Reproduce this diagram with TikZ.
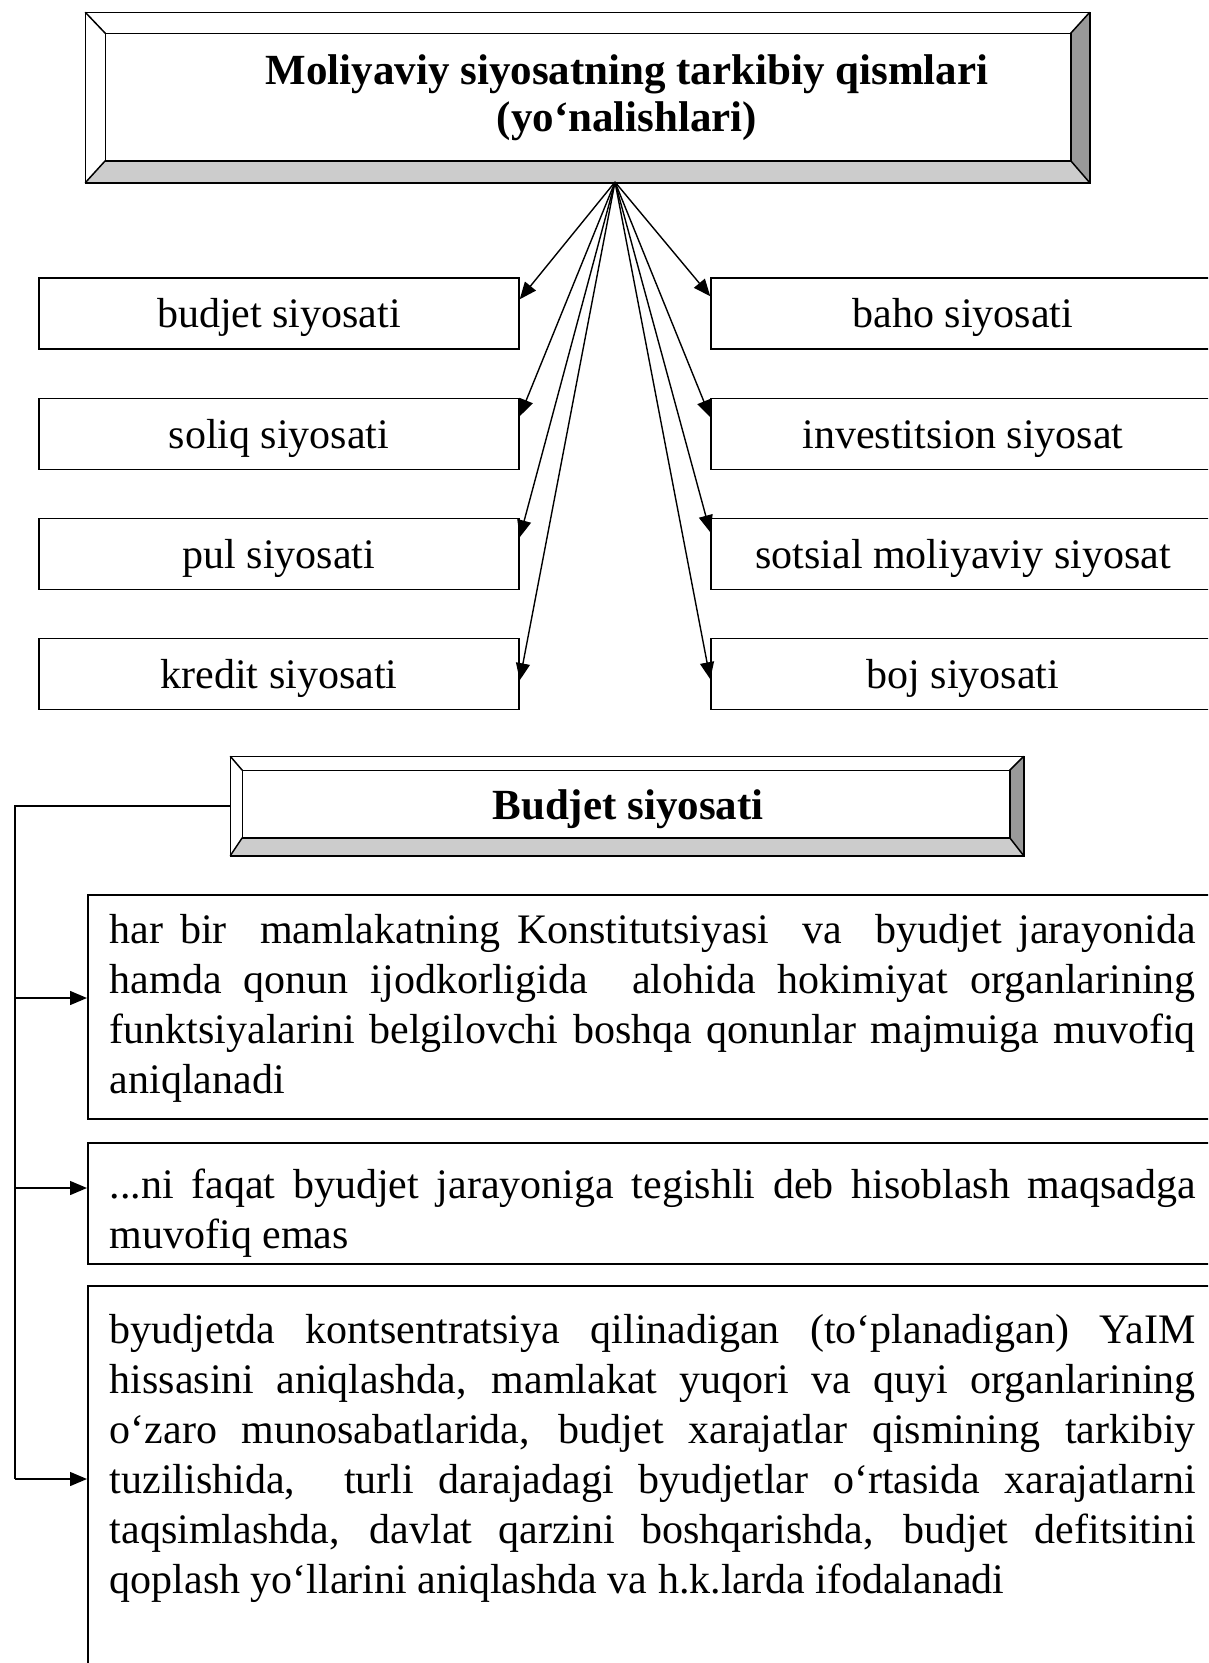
\documentclass[tikz,border=0pt]{standalone}
\usepackage{fontspec}
\setmainfont{Liberation Serif}
\usetikzlibrary{arrows.meta}
\setlength{\parindent}{0pt}
\definecolor{bevlight}{HTML}{CCCCCC}
\definecolor{bevdark}{HTML}{999999}
\newcommand{\JL}[1]{{\spaceskip=0pt\xspaceskip=0pt\makebox[1086pt][s]{#1}}}
\newcommand{\NS}{\spaceskip=0pt\xspaceskip=0pt\relax}
\newcommand{\bevelpaint}[2]{%
  \fill[bevlight] (#1.south west) -- (#1.south east) -- (#2.south east) -- (#2.south west) -- cycle;
  \fill[bevdark] (#1.south east) -- (#1.north east) -- (#2.north east) -- (#2.south east) -- cycle;
  \draw (#1.south west) rectangle (#1.north east);
  \draw (#2.south west) rectangle (#2.north east);
  \draw (#1.north west) -- (#2.north west) (#1.north east) -- (#2.north east)
        (#1.south west) -- (#2.south west) (#1.south east) -- (#2.south east);
}
\tikzset{
  shell/.style={rectangle, inner sep=0pt},
  sbox/.style={draw, rectangle, inner sep=0pt, minimum height=71pt, text height=28pt, text depth=0pt,
    font=\fontsize{42}{48}\selectfont},
  arr/.style={-{Triangle[length=17pt,width=14pt]}, line width=1.4pt},
  tbox/.style={draw, rectangle, inner sep=0pt, anchor=north west, minimum width=1131pt},
  body/.style={anchor=north west, inner sep=0pt, align=left, text width=1086pt,
    font=\fontsize{42}{50}\selectfont},
  head/.style={inner sep=0pt, font=\bfseries\fontsize{43}{47}\selectfont}
}
\begin{document}
\begin{tikzpicture}[x=1pt,y=-1pt,line width=1.5pt]
\useasboundingbox (0,0) rectangle (1208,1663);
\clip (0,0) rectangle (1208,1663);

% title bevel box
\path node[shell, minimum width=1003pt, minimum height=169pt] (titleO) at (587.5,97.5) {}
      node[shell, minimum width=964pt, minimum height=126pt] (titleI) at (588,97) {};
\bevelpaint{titleO}{titleI}
\node[head, anchor=north, align=center] (titletext) at (627,54)
  {\NS Moliyaviy siyosatning tarkibiy qismlari\\(yo‘nalishlari)};
\coordinate (src) at (615,182);

% left boxes
\node[sbox, minimum width=480pt] (b1) at (279,313.5) {budjet siyosati};
\node[sbox, minimum width=480pt] (b2) at (279,434) {soliq siyosati};
\node[sbox, minimum width=480pt] (b3) at (279,554) {pul siyosati};
\node[sbox, minimum width=480pt] (b4) at (279,674) {kredit siyosati};
% right boxes
\node[sbox, minimum width=504pt] (r1) at (963,313.5) {baho siyosati};
\node[sbox, minimum width=504pt] (r2) at (963,434) {investitsion siyosat};
\node[sbox, minimum width=504pt] (r3) at (963,554) {sotsial moliyaviy siyosat};
\node[sbox, minimum width=504pt] (r4) at (963,674) {boj siyosati};

\draw[arr] (src) -- ([yshift=-22pt]b1.north east);
\draw[arr] (src) -- ([yshift=-18.5pt]b2.north east);
\draw[arr] (src) -- ([yshift=-19.5pt]b3.north east);
\draw[arr] (src) -- ([yshift=-42.5pt]b4.north east);
\draw[arr] (src) -- ([yshift=-19pt]r1.north west);
\draw[arr] (src) -- ([yshift=-19.5pt]r2.north west);
\draw[arr] (src) -- ([yshift=-14.5pt]r3.north west);
\draw[arr] (src) -- ([yshift=-41.5pt]r4.north west);

% Budjet siyosati bevel box
\path node[shell, minimum width=792pt, minimum height=98pt] (budO) at (627,806) {}
      node[shell, minimum width=766pt, minimum height=66pt] (budI) at (626,804) {};
\bevelpaint{budO}{budI}
\node[head, anchor=base] (budtext) at (628,819) {Budjet siyosati};

% text boxes
\node[tbox, minimum height=224pt] (t1) at (87,894) {};
\node[tbox, minimum height=121pt] (t2) at (87,1142) {};
\node[tbox, minimum height=415pt] (t3) at (87,1285) {};

\node[body] (t1text) at (109,914) {\NS
\JL{har bir\ \ mamlakatning Konstitutsiyasi\ \ va\ \ byudjet jarayonida}\\
\JL{hamda qonun ijodkorligida\ \ alohida hokimiyat organlarining}\\
\JL{funktsiyalarini belgilovchi boshqa qonunlar majmuiga muvofiq}\\
aniqlanadi};
\node[body] (t2text) at (109,1168) {\NS
\JL{...ni faqat byudjet jarayoniga tegishli deb hisoblash maqsadga}\\
muvofiq emas};
\node[body] (t3text) at (109,1314) {\NS
\JL{byudjetda kontsentratsiya qilinadigan (to‘planadigan) YaIM}\\
\JL{hissasini aniqlashda, mamlakat yuqori va quyi organlarining}\\
\JL{o‘zaro munosabatlarida, budjet xarajatlar qismining tarkibiy}\\
\JL{tuzilishida,\ \ turli darajadagi byudjetlar o‘rtasida xarajatlarni}\\
\JL{taqsimlashda, davlat qarzini boshqarishda, budjet defitsitini}\\
qoplash yo‘llarini aniqlashda va h.k.larda ifodalanadi};

% connector bus
\coordinate (bus0) at (15,806);
\coordinate (bus1) at (15,998);
\coordinate (bus2) at (15,1188);
\coordinate (bus3) at (15,1479);
\draw[line width=1.4pt] (budO.west) -- (bus0) -- (bus3);
\draw[arr] (bus1) -- (bus1 -| t1.west);
\draw[arr] (bus2) -- (bus2 -| t2.west);
\draw[arr] (bus3) -- (bus3 -| t3.west);
\end{tikzpicture}
\end{document}
